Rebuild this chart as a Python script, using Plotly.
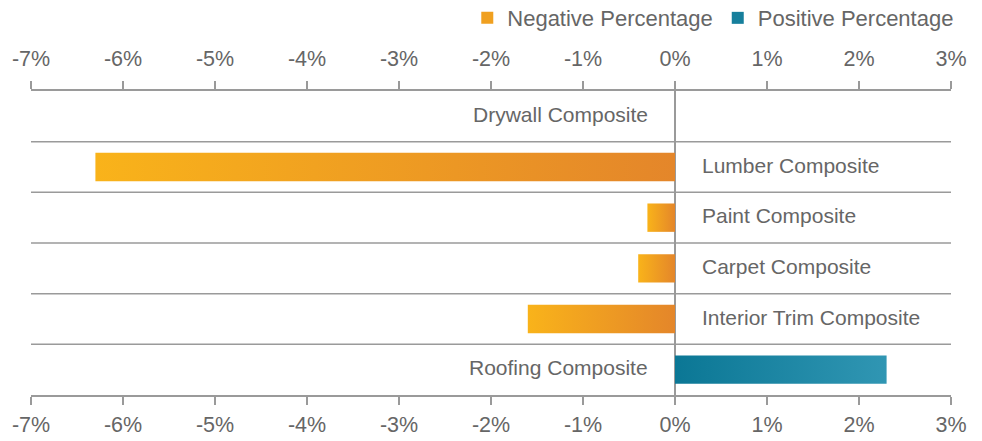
import plotly.graph_objects as go

categories = [
    "Drywall Composite",
    "Lumber Composite",
    "Paint Composite",
    "Carpet Composite",
    "Interior Trim Composite",
    "Roofing Composite",
]
values = [0.0, -6.3, -0.3, -0.4, -1.6, 2.3]
tick_values = [-7, -6, -5, -4, -3, -2, -1, 0, 1, 2, 3]
tick_labels = ["-7%", "-6%", "-5%", "-4%", "-3%", "-2%", "-1%", "0%", "1%", "2%", "3%"]
series_names = ["Negative Percentage", "Positive Percentage"]

NEG_SCALE = [[0, "#F9B31A"], [1, "#E4862A"]]
POS_SCALE = [[0, "#0B7795"], [1, "#3096B3"]]
NEG_SOLID = "#F0A020"
POS_SOLID = "#167F9C"
TEXT = "#666666"
LINE = "#9a9a9a"
FONT = "Liberation Sans, Arial, Helvetica, sans-serif"
HALF = 0.28

fig = go.Figure()

for i, v in enumerate(values):
    if v == 0:
        continue
    lo, hi = min(v, 0), max(v, 0)
    fig.add_trace(go.Scatter(
        x=[lo, hi, hi, lo, lo],
        y=[i - HALF, i - HALF, i + HALF, i + HALF, i - HALF],
        fill="toself", mode="lines", line=dict(width=0),
        fillgradient=dict(type="horizontal",
                          colorscale=NEG_SCALE if v < 0 else POS_SCALE),
        showlegend=False, hoverinfo="skip",
    ))

# legend entries
fig.add_trace(go.Bar(x=[None], y=[None], name=series_names[0],
                     marker=dict(color=NEG_SOLID, line=dict(width=0))))
fig.add_trace(go.Bar(x=[None], y=[None], name=series_names[1],
                     marker=dict(color=POS_SOLID, line=dict(width=0))))
# anchor for top axis
fig.add_trace(go.Scatter(x=[None], y=[None], xaxis="x2", showlegend=False,
                         hoverinfo="skip"))

# row separators
for i in range(len(categories) - 1):
    fig.add_shape(type="line", xref="x", yref="y",
                  x0=tick_values[0], x1=tick_values[-1], y0=i + 0.5, y1=i + 0.5,
                  line=dict(color=LINE, width=1.5), layer="below")

# category labels on the side opposite the bar
for i, (cat, v) in enumerate(zip(categories, values)):
    fig.add_annotation(x=0, y=i, xref="x", yref="y", text=cat, showarrow=False,
                       xanchor="left" if v < 0 else "right",
                       xshift=25 if v < 0 else -25, yshift=2,
                       font=dict(family=FONT, size=21, color=TEXT))

axis_common = dict(
    range=[tick_values[0], tick_values[-1]],
    tickvals=tick_values, ticktext=tick_labels,
    showline=True, linecolor=LINE, linewidth=1.5,
    ticks="outside", ticklen=8, tickwidth=1.5, tickcolor=LINE,
    showgrid=False, automargin=False,
    tickfont=dict(family=FONT, size=21.5, color=TEXT),
)

fig.update_layout(
    width=982, height=441,
    margin=dict(l=31, r=31, t=91, b=46, autoexpand=False),
    paper_bgcolor="white", plot_bgcolor="white",
    font=dict(family=FONT, size=21, color=TEXT),
    xaxis=dict(**axis_common, side="bottom", zeroline=True,
               zerolinecolor=LINE, zerolinewidth=1.5, ticklabelstandoff=1),
    xaxis2=dict(**axis_common, side="top", overlaying="x", matches="x",
                zeroline=False, ticklabelstandoff=7),
    yaxis=dict(range=[5.5, -0.5], visible=False, showgrid=False,
               zeroline=False),
    legend=dict(orientation="h", x=1.009, xanchor="right", y=1.24,
                yanchor="middle", font=dict(family=FONT, size=22, color=TEXT),
                bgcolor="rgba(0,0,0,0)", itemwidth=30),
    showlegend=True,
)

fig.write_html(
    "out.html",
    config={"displayModeBar": False},
    post_script="document.body.style.margin='0';document.body.style.padding='0';"
                "document.body.style.overflow='hidden';",
)
